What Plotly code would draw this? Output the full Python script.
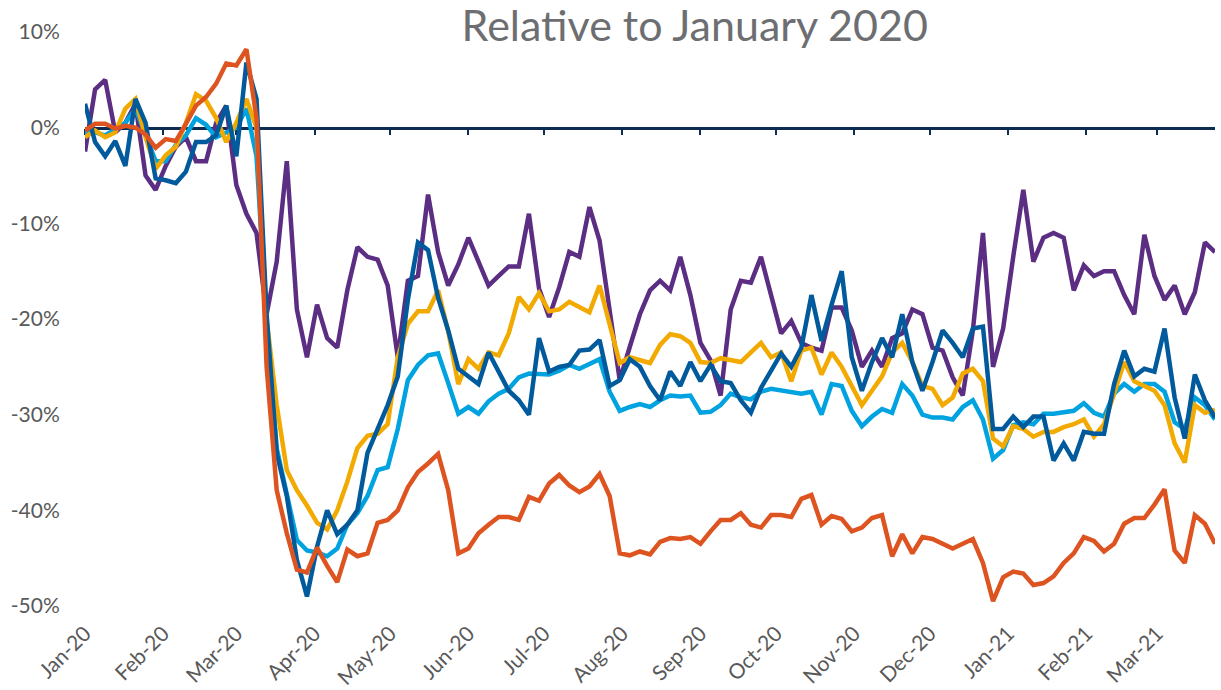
import pandas as pd
import plotly.graph_objects as go

# Sample dates (every 4 days from 1 Jan 2020)
dates = pd.date_range("2020-01-01", periods=113, freq="4D")

purple_vals = [
    -2.5, 4.0, 5.0, -0.5, 0.5, 2.5, -5.0, -6.5, -4.0, -2.0,
    -1.0, -3.5, -3.5, 0.5, 2.3, -6.0, -9.0, -11.0, -19.5, -14.0,
    -3.5, -19.0, -24.0, -18.5, -22.0, -23.0, -17.0, -12.5, -13.5, -13.8,
    -16.5, -24.0, -16.0, -15.5, -7.0, -13.0, -16.5, -14.3, -11.5, -14.0,
    -16.5, -15.5, -14.5, -14.5, -9.0, -16.8, -19.8, -16.7, -13.0, -13.5,
    -8.3, -11.8, -19.5, -26.4, -22.9, -19.5, -17.0, -16.0, -17.0, -13.5,
    -17.5, -22.5, -24.3, -28.0, -19.0, -16.0, -16.2, -13.5, -17.5, -21.5,
    -20.2, -22.5, -23.0, -23.3, -18.8, -18.8, -21.2, -25.0, -23.3, -25.0,
    -22.0, -21.5, -19.0, -19.5, -23.0, -23.3, -26.1, -28.0, -21.2, -11.0,
    -25.0, -21.0, -13.5, -6.5, -14.0, -11.5, -11.0, -11.5, -17.0, -14.4,
    -15.5, -15.0, -15.0, -17.5, -19.5, -11.2, -15.5, -18.0, -16.5, -19.5,
    -17.2, -12.0, -13.0,
]

gold_vals = [
    -1.0, -0.3, -1.0, -0.5, 2.0, 3.0, -1.0, -4.3, -2.9, -2.0,
    0.5, 3.5, 2.8, 1.0, -1.5, 0.5, 3.0, 0.0, -20.0, -29.0,
    -35.8, -37.9, -39.5, -41.3, -42.0, -40.0, -37.0, -33.5, -32.2, -32.0,
    -31.0, -24.0, -20.5, -19.2, -19.2, -17.0, -21.3, -26.8, -24.2, -25.2,
    -23.5, -23.8, -21.5, -17.7, -19.0, -17.3, -19.2, -19.0, -18.2, -18.8,
    -19.3, -16.5, -20.5, -24.6, -24.0, -24.3, -24.6, -22.7, -21.6, -21.8,
    -22.5, -24.5, -24.6, -24.1, -24.3, -24.5, -23.5, -22.5, -24.0, -23.5,
    -26.5, -23.3, -23.0, -25.8, -23.5, -25.0, -27.0, -29.0, -27.5, -26.0,
    -23.5, -22.5, -24.5, -27.0, -27.3, -29.0, -28.2, -25.7, -25.2, -26.5,
    -32.5, -33.3, -31.2, -31.5, -32.3, -31.8, -31.8, -31.3, -31.0, -30.5,
    -32.3, -31.0, -27.8, -24.5, -26.5, -27.0, -27.5, -29.0, -33.0, -35.0,
    -29.0, -29.8, -29.5,
]

lightblue_vals = [
    -0.5, -0.5, -0.8, -0.2, 0.5, 2.0, -0.8, -3.5, -3.5, -1.8,
    -0.8, 1.0, 0.3, -1.0, -0.5, 0.0, 2.0, -3.0, -20.5, -33.5,
    -38.3, -43.1, -44.2, -44.4, -44.8, -44.0, -41.5, -40.3, -38.5, -35.8,
    -35.5, -31.5, -26.4, -24.8, -23.8, -23.6, -26.7, -29.9, -29.2, -29.9,
    -28.6, -27.8, -27.3, -26.1, -25.7, -25.8, -25.8, -25.4, -24.8, -25.2,
    -24.7, -24.2, -27.6, -29.6, -29.2, -28.9, -29.2, -28.5, -28.0, -28.1,
    -28.0, -29.8, -29.7, -29.0, -27.8, -28.2, -28.4, -27.6, -27.3, -27.5,
    -27.6, -27.8, -27.6, -30.0, -26.8, -27.0, -29.6, -31.2, -30.2, -29.4,
    -29.8, -26.8, -28.0, -30.0, -30.3, -30.3, -30.5, -29.2, -28.5, -30.5,
    -34.6, -33.7, -31.1, -30.8, -31.0, -29.9, -29.9, -29.7, -29.6, -28.8,
    -29.8, -30.2, -27.8, -26.8, -27.6, -26.8, -26.8, -27.6, -30.8, -31.5,
    -28.2, -29.0, -30.5,
]

darkblue_vals = [
    2.5, -1.5, -3.0, -1.4, -4.0, 3.0, 0.5, -5.3, -5.5, -5.8,
    -4.6, -1.5, -1.5, -0.8, 2.3, -3.0, 6.8, 3.0, -19.5, -34.0,
    -38.5, -45.2, -49.0, -43.8, -40.0, -42.5, -41.5, -40.0, -34.0, -31.6,
    -29.0, -26.0, -18.0, -12.0, -12.8, -17.8, -21.2, -25.2, -26.0, -26.8,
    -23.5, -25.5, -27.5, -28.5, -30.0, -22.0, -25.5, -25.0, -24.8, -23.3,
    -23.2, -22.2, -27.0, -26.4, -24.2, -25.0, -27.0, -28.5, -25.5, -27.0,
    -24.5, -26.5, -24.8, -26.5, -26.7, -28.5, -29.8, -27.2, -25.4, -23.6,
    -25.0, -23.0, -17.5, -22.3, -18.5, -15.0, -24.0, -27.5, -24.5, -22.0,
    -24.0, -19.5, -24.5, -27.5, -24.5, -21.2, -22.5, -24.0, -21.0, -20.8,
    -31.5, -31.5, -30.2, -31.3, -30.2, -30.2, -34.8, -33.0, -34.8, -31.8,
    -32.0, -32.0, -26.8, -23.3, -26.0, -25.2, -25.5, -21.0, -28.2, -32.5,
    -25.8, -28.5, -30.3,
]

orange_vals = [
    -0.3, 0.4, 0.4, -0.1, 0.2, 0.0, -0.7, -2.1, -1.2, -1.4,
    0.4, 2.3, 3.2, 4.6, 6.7, 6.5, 8.2, 1.0, -25.0, -37.9,
    -42.4, -46.2, -46.5, -43.9, -45.8, -47.5, -44.1, -44.8, -44.5, -41.3,
    -41.0, -40.0, -37.6, -36.0, -35.1, -34.1, -37.9, -44.5, -44.0, -42.4,
    -41.5, -40.7, -40.7, -41.0, -38.6, -39.0, -37.2, -36.3, -37.4, -38.1,
    -37.5, -36.2, -38.5, -44.5, -44.7, -44.3, -44.6, -43.3, -42.9, -43.0,
    -42.8, -43.5, -42.2, -41.0, -41.0, -40.3, -41.5, -41.8, -40.5, -40.5,
    -40.7, -38.8, -38.4, -41.5, -40.6, -40.9, -42.2, -41.8, -40.8, -40.5,
    -44.8, -42.5, -44.5, -42.8, -43.0, -43.5, -44.0, -43.5, -43.0, -45.5,
    -49.5, -47.0, -46.4, -46.6, -47.8, -47.6, -46.9, -45.5, -44.5, -42.8,
    -43.2, -44.3, -43.5, -41.4, -40.8, -40.8, -39.4, -37.8, -44.2, -45.5,
    -40.5, -41.4, -43.5,
]

y_tick_vals = [-50, -40, -30, -20, -10, 0, 10]
y_tick_labels = ["-50%", "-40%", "-30%", "-20%", "-10%", "0%", "10%"]

series = [
    ("Series A", purple_vals, "#5b2d83"),
    ("Series B", lightblue_vals, "#00a3e0"),
    ("Series C", gold_vals, "#f2a900"),
    ("Series D", darkblue_vals, "#005a9c"),
    ("Series E", orange_vals, "#dd5420"),
]

fig = go.Figure()
for name, vals, color in series:
    fig.add_trace(go.Scatter(x=dates, y=vals, mode="lines", name=name,
                             line=dict(color=color, width=4.5)))

# dummy trace to carry the zero-line axis
fig.add_trace(go.Scatter(x=[dates[0], dates[-1]], y=[None, None], xaxis="x2",
                         mode="lines", showlegend=False, hoverinfo="skip"))

x_range = [dates[0], dates[-1]]
label_font = dict(family="Lato", size=21, color="#595959")

fig.update_layout(
    width=1221, height=690,
    margin=dict(l=85, r=6, t=32, b=84),
    plot_bgcolor="white", paper_bgcolor="white",
    showlegend=False,
    title=dict(text="Relative to January 2020", xref="container", x=0.569,
               xanchor="center", yref="container", y=0.963, yanchor="middle",
               font=dict(family="Lato", size=43, color="#6d6e71")),
    xaxis=dict(type="date", range=x_range, tickformat="%b-%y", dtick="M1",
               tick0="2020-01-01", tickangle=-45, showgrid=False, showline=False,
               zeroline=False, ticks="outside", ticklen=6, automargin=False,
               tickcolor="rgba(0,0,0,0)",
               tickfont=dict(family="Lato", size=21, color="#595959")),
    xaxis2=dict(type="date", range=x_range, overlaying="x", anchor="free",
                position=50 / 60, side="bottom", showline=True, linecolor="#0c2c52",
                linewidth=2.5, ticks="outside", ticklen=6, tickwidth=2,
                tickcolor="#0c2c52", dtick="M1", tick0="2020-01-01",
                showticklabels=False, showgrid=False, zeroline=False,
                automargin=False, layer="below traces"),
    yaxis=dict(range=[-50, 10], tickvals=y_tick_vals, ticktext=y_tick_labels,
               showgrid=False, zeroline=False, showline=False, ticks="outside",
               ticklen=20, tickcolor="rgba(0,0,0,0)", tickfont=label_font,
               automargin=False),
)

fig.write_html("out.html",
               config={"displayModeBar": False},
               post_script="document.body.style.margin='0';document.body.style.overflow='hidden';")
